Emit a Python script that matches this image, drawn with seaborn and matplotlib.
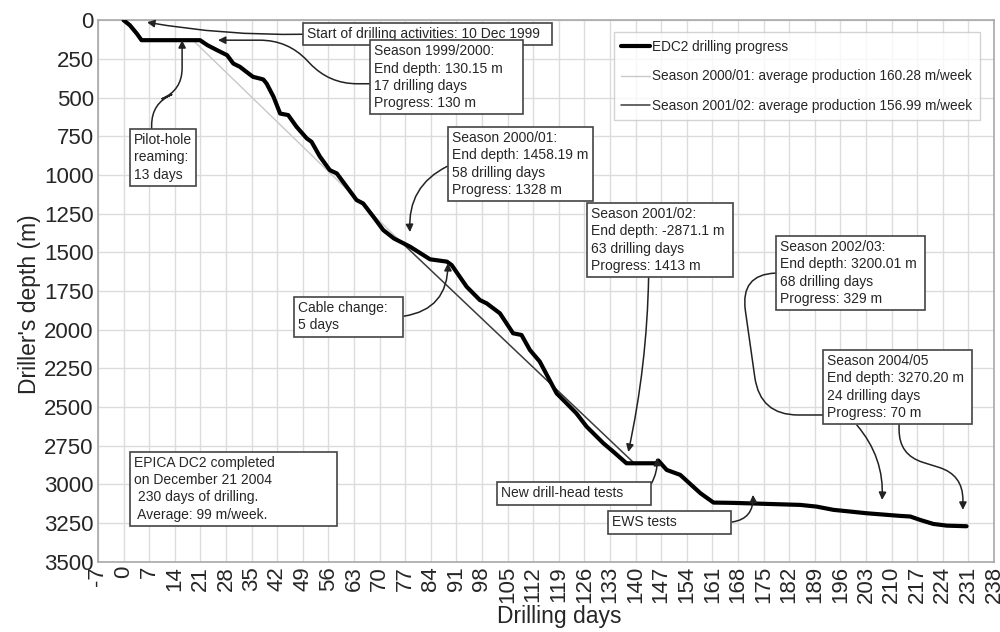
import numpy as np
import pandas as pd
import matplotlib
matplotlib.use("Agg")
import matplotlib.pyplot as plt
import seaborn as sns

# EDC2 drilling progress
days = [0, 1.7, 3.6, 4.9, 20.9, 22.9, 25.6, 28.3, 30.0, 31.8, 33.6, 35.4, 37.3, 38.2,
        39.1, 41.0, 42.8, 45.0, 47.3, 50.1, 51.4, 53.7, 56.4, 58.3, 61.0, 63.7, 65.5,
        68.3, 71.0, 73.9, 78.3, 83.8, 88.4, 89.7, 93.8, 97.4, 99.3, 102.9, 106.5, 108.8,
        111.1, 113.8, 118.4, 121.1, 123.8, 126.6, 131.2, 133.9, 137.5, 145.8, 146.2,
        148.5, 152.2, 157.7, 161.3, 166.8, 185.0, 189.5, 194.1, 198.7, 203.2, 212.3,
        215.1, 217.8, 221.4, 225.1, 230.5]
depth = [0, 32, 86, 129, 129, 161, 194, 226, 280, 301, 334, 366, 377, 383,
         409, 495, 603, 613, 689, 764, 786, 882, 969, 990, 1076, 1162, 1184,
         1270, 1356, 1410, 1463, 1545, 1560, 1582, 1722, 1808, 1830, 1894, 2023, 2034,
         2131, 2206, 2411, 2475, 2540, 2626, 2734, 2788, 2863, 2863, 2845,
         2906, 2938, 3056, 3117, 3119, 3132, 3143, 3164, 3175, 3186, 3203,
         3207, 3229, 3255, 3266, 3270]

# average production lines
avg1_days = [19, 77]
avg1_depth = [130.15, 1458.19]
avg2_days = [77, 140]
avg2_depth = [1458.19, 2871.1]

xticks = list(range(-7, 239, 7))
yticks = list(range(0, 3501, 250))

sns.set_style("whitegrid")
plt.rcParams['font.family'] = ['Liberation Sans', 'DejaVu Sans']

fig = plt.figure(figsize=(10, 6.32), dpi=100)
ax = fig.add_axes([0.098, 0.111, 0.896, 0.857])

sns.lineplot(x=days, y=depth, ax=ax, color='black', lw=3, label='EDC2 drilling progress',
             sort=False, zorder=4)
sns.lineplot(x=avg1_days, y=avg1_depth, ax=ax, color='#c8c8c8', lw=1,
             label='Season 2000/01: average production 160.28 m/week', zorder=3)
sns.lineplot(x=avg2_days, y=avg2_depth, ax=ax, color='#3a3a3a', lw=1.1,
             label='Season 2001/02: average production 156.99 m/week', zorder=3)

ax.set_xlim(-7, 238)
ax.set_ylim(3500, 0)
ax.set_xticks(xticks)
ax.set_yticks(yticks)
ax.set_xticklabels([str(t) for t in xticks], rotation=90, fontsize=16)
ax.set_yticklabels([str(t) for t in yticks], fontsize=16)
ax.tick_params(axis='both', length=0, pad=3)
ax.grid(True, color='#dcdcdc', lw=1)
for s in ax.spines.values():
    s.set_color('#a8a8a8')
    s.set_linewidth(1.2)
ax.set_xlabel('Drilling days', fontsize=16.5)
ax.set_ylabel("Driller's depth (m)", fontsize=16.5)
ax.xaxis.set_label_coords(0.515, -0.079)
ax.yaxis.set_label_coords(-0.064, 0.476)

leg = ax.legend(loc='upper right', bbox_to_anchor=(0.984, 0.978), fontsize=9.8,
                frameon=True, fancybox=False, edgecolor='#c8c8c8', handlelength=2.1,
                handletextpad=0.15, labelspacing=1.15, borderpad=0.55, borderaxespad=0)
leg.get_frame().set_linewidth(1)

box = dict(boxstyle='square,pad=0.3', fc='white', ec='#444444', lw=1.2)
arr = dict(arrowstyle='-|>', color='#222222', lw=1.1, mutation_scale=11, shrinkA=0, shrinkB=0)
tkw = dict(fontsize=10, linespacing=1.3, ha='left', bbox=box, zorder=6)

def note(text, xy, xytext, va='top', conn='arc3,rad=0', relpos=(0, 0.5), style='-|>'):
    a = dict(arr, connectionstyle=conn, relpos=relpos, arrowstyle=style)
    ax.annotate(text, xy=xy, xytext=xytext, va=va, arrowprops=a, **tkw)

note('Start of drilling activities: 10 Dec 1999  ', (6.4, 13), (50.2, 90), va='center',
     conn='arc3,rad=-0.05')
note('Season 1999/2000:\nEnd depth: 130.15 m    \n17 drilling days\nProgress: 130 m',
     (25.8, 129), (68.5, 155), relpos=(0, 0.4),
     conn='arc,angleA=180,armA=45,angleB=0,armB=70,rad=28')
note('Pilot-hole\nreaming:\n13 days', (16, 129), (2.9, 730),
     conn='arc,angleA=90,armA=30,angleB=-90,armB=50,rad=22', relpos=(0.3, 1))
note('Season 2000/01:\nEnd depth: 1458.19 m\n58 drilling days\nProgress: 1328 m',
     (78.3, 1369), (89.8, 717), conn='arc3,rad=0.35')
note('Cable change:   \n5 days', (88.7, 1569), (47.7, 1815),
     conn='arc3,rad=0.45', relpos=(1, 0.5))
note('Season 2001/02:\nEnd depth: -2871.1 m \n63 drilling days\nProgress: 1413 m',
     (138, 2790), (127.8, 1208), conn='arc3,rad=-0.05', relpos=(0.42, 0))
# season 2002/03 leader runs behind the 2004/05 box
note('Season 2002/03:\nEnd depth: 3200.01 m \n68 drilling days\nProgress: 329 m',
     (197.3, 2551), (179.5, 1421), conn='arc,angleA=180,armA=40,angleB=180,armB=85,rad=38',
     style='-')
note('Season 2004/05\nEnd depth: 3270.20 m \n24 drilling days\nProgress: 70 m',
     (229.5, 3164), (192.4, 2157),
     conn='arc,angleA=-90,armA=35,angleB=90,armB=35,rad=25', relpos=(0.51, 0))
ax.annotate('', xy=(207.4, 3100), xytext=(200.5, 2616),
            arrowprops=dict(arr, connectionstyle='arc3,rad=-0.2'), zorder=5)
note('New drill-head tests      ', (145.8, 2828), (103.2, 3058), va='center',
     conn='arc3,rad=0.2', relpos=(1, 0.7))
note('EWS tests             ', (172.1, 3067), (133.6, 3245), va='center',
     conn='arc3,rad=0.5', relpos=(1, 0.5))
ax.text(2.9, 2815, 'EPICA DC2 completed               \non December 21 2004\n 230 days of drilling.\n Average: 99 m/week.',
        va='top', **tkw)

fig.savefig('out.png', dpi=100)
